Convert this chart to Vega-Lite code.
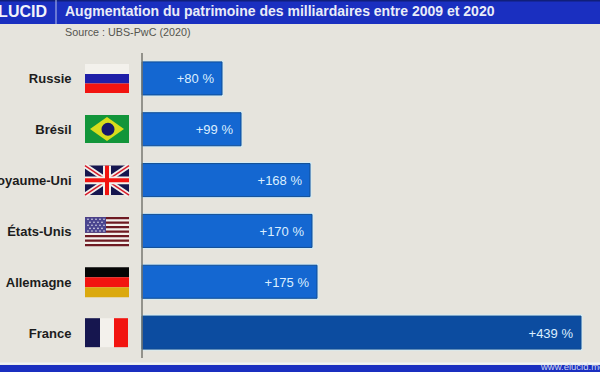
{
"$schema":"https://vega.github.io/schema/vega-lite/v6.json",
"padding":0,
"autosize":{"type":"none"},
"background":"#e6e4dd",
"config":{"view":{"stroke":null},"font":"Liberation Sans"},
"width":600,"height":372,
"datasets":{
"bars":[
{"pays":"Russie","hausse":80,"label":"+80 %","groupe":"autres"},
{"pays":"Brésil","hausse":99,"label":"+99 %","groupe":"autres"},
{"pays":"Royaume-Uni","hausse":168,"label":"+168 %","groupe":"autres"},
{"pays":"États-Unis","hausse":170,"label":"+170 %","groupe":"autres"},
{"pays":"Allemagne","hausse":175,"label":"+175 %","groupe":"autres"},
{"pays":"France","hausse":439,"label":"+439 %","groupe":"France"}],
"bandeaux":[
{"a":-142,"b":458,"h":-1.043,"k":-0.571},
{"a":-142,"b":458,"h":6.14,"k":6.4}],
"fonds":[
{"a":-57,"b":-13,"h":0.217,"k":0.413,"c":"blanc"},
{"a":-57,"b":-13,"h":0.413,"k":0.6,"c":"bleu"},
{"a":-57,"b":-13,"h":0.6,"k":0.787,"c":"rouge"},
{"a":-57,"b":-13,"h":1.22,"k":1.77,"c":"vert"},
{"a":-57,"b":-13,"h":2.215,"k":2.795,"c":"marine"},
{"a":-57,"b":-13,"h":3.228,"k":3.8,"c":"blanc"},
{"a":-57,"b":-13,"h":3.228,"k":3.272,"c":"bordeaux"},
{"a":-57,"b":-13,"h":3.316,"k":3.36,"c":"bordeaux"},
{"a":-57,"b":-13,"h":3.404,"k":3.448,"c":"bordeaux"},
{"a":-57,"b":-13,"h":3.492,"k":3.536,"c":"bordeaux"},
{"a":-57,"b":-13,"h":3.58,"k":3.624,"c":"bordeaux"},
{"a":-57,"b":-13,"h":3.668,"k":3.712,"c":"bordeaux"},
{"a":-57,"b":-13,"h":3.756,"k":3.8,"c":"bordeaux"},
{"a":-57,"b":-36,"h":3.228,"k":3.536,"c":"violet"},
{"a":-57,"b":-13,"h":4.213,"k":4.41,"c":"noir"},
{"a":-57,"b":-13,"h":4.41,"k":4.606,"c":"rouge"},
{"a":-57,"b":-13,"h":4.606,"k":4.805,"c":"or"},
{"a":-57,"b":-42,"h":5.217,"k":5.787,"c":"marine"},
{"a":-42,"b":-28,"h":5.217,"k":5.787,"c":"blanc"},
{"a":-28,"b":-14,"h":5.217,"k":5.787,"c":"rouge"}],
"diagonales":[
{"a":-57,"b":-13,"h":2.215,"k":2.795},
{"a":-57,"b":-13,"h":2.795,"k":2.215}],
"croix":[
{"a":-39,"b":-31,"h":2.215,"k":2.795,"c":"blanc"},
{"a":-57,"b":-13,"h":2.43,"k":2.58,"c":"blanc"},
{"a":-37,"b":-33,"h":2.215,"k":2.795,"c":"rouge"},
{"a":-57,"b":-13,"h":2.465,"k":2.545,"c":"rouge"}],
"losange":[
{"a":-52,"h":1.495,"k":1.495},
{"a":-35,"h":1.26,"k":1.73},
{"a":-18,"h":1.495,"k":1.495}],
"globe":[{"a":-34,"h":1.5}],
"etoiles":[
{"a":-54,"h":3.27},{"a":-50,"h":3.27},{"a":-46,"h":3.27},{"a":-42,"h":3.27},{"a":-38,"h":3.27},
{"a":-52,"h":3.33},{"a":-48,"h":3.33},{"a":-44,"h":3.33},{"a":-40,"h":3.33},
{"a":-54,"h":3.39},{"a":-50,"h":3.39},{"a":-46,"h":3.39},{"a":-42,"h":3.39},{"a":-38,"h":3.39},
{"a":-52,"h":3.45},{"a":-48,"h":3.45},{"a":-44,"h":3.45},{"a":-40,"h":3.45},
{"a":-54,"h":3.5},{"a":-50,"h":3.5},{"a":-46,"h":3.5},{"a":-42,"h":3.5},{"a":-38,"h":3.5}]
},
"encoding":{"x":{"type":"quantitative","scale":{"domain":[-142,458],"nice":false,"zero":false},"axis":null}},
"resolve":{"scale":{"y":"independent","color":"independent"}},
"layer":[
{"data":{"name":"bars"},
"encoding":{"y":{"field":"pays","type":"nominal","sort":null,
"scale":{"domain":["Russie","Brésil","Royaume-Uni","États-Unis","Allemagne","France"],"range":[53,358],"paddingInner":0.35,"paddingOuter":0.175},
"axis":{"orient":"left","offset":-71,"title":null,"domain":false,"ticks":false,"grid":false,"labelPadding":0,"labelOffset":1,"labelFontSize":13,"labelFontWeight":"bold","labelColor":"#1c1c1c","labelLimit":200}}},
"layer":[
{"mark":{"type":"bar","stroke":"#d4ebf4","strokeWidth":3},
"encoding":{"x":{"field":"hausse","type":"quantitative"}}},
{"mark":{"type":"bar","stroke":"#0f4c93","strokeWidth":1},
"encoding":{"x":{"field":"hausse","type":"quantitative"},
"color":{"field":"groupe","type":"nominal","scale":{"domain":["autres","France"],"range":["#1467d1","#0c4ca0"]},"legend":null}}},
{"mark":{"type":"text","align":"right","dx":-8,"dy":1,"fontSize":13,"fontWeight":500,"color":"#dbeeff"},
"encoding":{"x":{"field":"hausse","type":"quantitative"},"text":{"field":"label"}}}
]},
{"encoding":{"y":{"type":"quantitative","scale":{"domain":[0,6],"range":[53,358],"nice":false,"zero":false},"axis":null}},
"layer":[
{"data":{"name":"bandeaux"},"mark":{"type":"rect","color":"#1a2fc0"},
"encoding":{"x":{"field":"a"},"x2":{"field":"b"},"y":{"field":"h"},"y2":{"field":"k"}}},
{"data":{"values":[{"a":-142,"b":458,"h":-1.035}]},"mark":{"type":"rule","color":"#101f7a","strokeWidth":2},
"encoding":{"x":{"field":"a"},"x2":{"field":"b"},"y":{"field":"h"}}},
{"data":{"values":[{"a":0,"h":0,"k":6}]},"mark":{"type":"rule","color":"#77776f","strokeWidth":1.5},
"encoding":{"x":{"field":"a"},"y":{"field":"h"},"y2":{"field":"k"}}},
{"data":{"values":[{"a":-142,"b":458,"h":6.11}]},"mark":{"type":"rule","color":"#eef3f6","strokeWidth":2},
"encoding":{"x":{"field":"a"},"x2":{"field":"b"},"y":{"field":"h"}}},
{"data":{"values":[{"a":-86,"h":-1.043,"k":-0.571}]},"mark":{"type":"rule","color":"#b9c2ea","strokeWidth":1},
"encoding":{"x":{"field":"a"},"y":{"field":"h"},"y2":{"field":"k"}}},
{"data":{"values":[{"a":-95,"h":-0.807,"t":"ELUCID"}]},"mark":{"type":"text","align":"right","fontWeight":"bold","fontSize":16,"color":"#f2f4fb"},
"encoding":{"x":{"field":"a"},"y":{"field":"h"},"text":{"field":"t"}}},
{"data":{"values":[{"a":-77,"h":-0.807,"t":"Augmentation du patrimoine des milliardaires entre 2009 et 2020"}]},"mark":{"type":"text","align":"left","fontWeight":"bold","fontSize":14,"color":"#e9ecf8"},
"encoding":{"x":{"field":"a"},"y":{"field":"h"},"text":{"field":"t"}}},
{"data":{"values":[{"a":-77,"h":-0.39,"t":"Source : UBS-PwC (2020)"}]},"mark":{"type":"text","align":"left","fontSize":10.75,"color":"#55554f"},
"encoding":{"x":{"field":"a"},"y":{"field":"h"},"text":{"field":"t"}}},
{"data":{"values":[{"a":399,"h":6.17,"t":"www.elucid.media"}]},"mark":{"type":"text","align":"left","fontSize":9.5,"color":"#cdd6f2"},
"encoding":{"x":{"field":"a"},"y":{"field":"h"},"text":{"field":"t"}}},
{"data":{"name":"fonds"},"mark":{"type":"rect"},
"encoding":{"x":{"field":"a"},"x2":{"field":"b"},"y":{"field":"h"},"y2":{"field":"k"},
"color":{"field":"c","type":"nominal","legend":null,"scale":{"domain":["blanc","bleu","rouge","vert","marine","bordeaux","violet","noir","or"],"range":["#f3f1ec","#1f1fa8","#f21410","#12953a","#16164f","#6e1a22","#4a458f","#050505","#dba90e"]}}}},
{"data":{"name":"diagonales"},"mark":{"type":"rule","color":"#f3f1ec","strokeWidth":5},
"encoding":{"x":{"field":"a"},"x2":{"field":"b"},"y":{"field":"h"},"y2":{"field":"k"}}},
{"data":{"name":"diagonales"},"mark":{"type":"rule","color":"#d81e2c","strokeWidth":1.5},
"encoding":{"x":{"field":"a"},"x2":{"field":"b"},"y":{"field":"h"},"y2":{"field":"k"}}},
{"data":{"name":"croix"},"mark":{"type":"rect"},
"encoding":{"x":{"field":"a"},"x2":{"field":"b"},"y":{"field":"h"},"y2":{"field":"k"},
"color":{"field":"c","type":"nominal","legend":null,"scale":{"domain":["blanc","bleu","rouge","vert","marine","bordeaux","violet","noir","or"],"range":["#f3f1ec","#1f1fa8","#f21410","#12953a","#16164f","#6e1a22","#4a458f","#050505","#dba90e"]}}}},
{"data":{"name":"losange"},"mark":{"type":"area","color":"#d8dc1c","orient":"vertical"},
"encoding":{"x":{"field":"a"},"y":{"field":"h"},"y2":{"field":"k"}}},
{"data":{"name":"globe"},"mark":{"type":"point","filled":true,"opacity":1,"color":"#16186a","size":170,"shape":"circle"},
"encoding":{"x":{"field":"a"},"y":{"field":"h"}}},
{"data":{"name":"etoiles"},"mark":{"type":"point","filled":true,"opacity":1,"color":"#e8e6f0","size":2.5,"shape":"circle"},
"encoding":{"x":{"field":"a"},"y":{"field":"h"}}}
]}
]}
